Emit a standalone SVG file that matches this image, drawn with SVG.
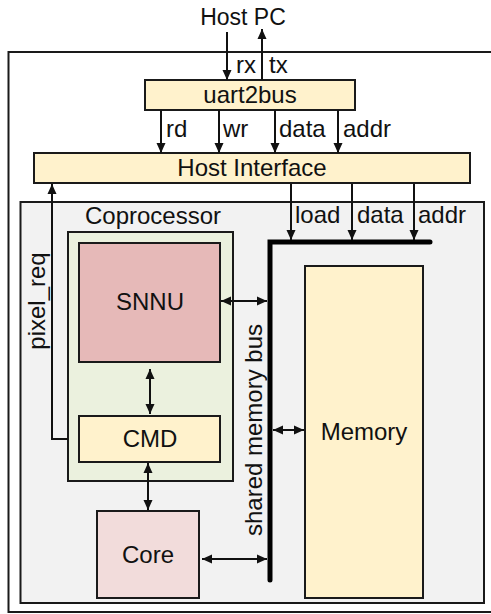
<svg xmlns="http://www.w3.org/2000/svg" width="491" height="614" viewBox="0 0 491 614">
<style>
text{font-family:"Liberation Sans","Open Sans",sans-serif;font-size:24px;fill:#111}
.c{text-anchor:middle}
.box{stroke:#1a1a1a;stroke-width:2}
.ln{stroke:#111;stroke-width:2;fill:none}
</style>
<defs>
<marker id="ah" markerUnits="userSpaceOnUse" markerWidth="10" markerHeight="10" refX="10" refY="5" orient="auto-start-reverse" viewBox="0 0 10 10">
<path d="M0,0.5 L10,5 L0,9.5 z" fill="#111"/>
</marker>
</defs>
<rect x="8.5" y="52" width="490" height="560" fill="#fff" stroke="#1a1a1a" stroke-width="2"/>
<rect x="20.5" y="202" width="463.5" height="401" fill="#f2f2f2" stroke="#1a1a1a" stroke-width="2"/>
<text class="c" x="243" y="25" style="font-size:23px">Host PC</text>
<g id="uart2bus"><rect class="box" x="145" y="80" width="210" height="30" fill="#fff2cc"/><text class="c" x="250" y="103">uart2bus</text></g>
<g id="host-interface"><rect class="box" x="34" y="153" width="436" height="30" fill="#fff2cc"/><text class="c" x="252" y="176">Host Interface</text></g>
<g id="coprocessor"><rect class="box" x="68" y="232" width="165" height="249" fill="#ebf1de"/><text class="c" x="153" y="224">Coprocessor</text></g>
<g id="snnu"><rect class="box" x="79" y="243" width="141" height="119" fill="#e6b9b8"/><text class="c" x="150" y="310">SNNU</text></g>
<g id="cmd"><rect class="box" x="79" y="416" width="141" height="46" fill="#fff2cc"/><text class="c" x="150" y="447">CMD</text></g>
<g id="core"><rect class="box" x="97" y="511" width="102" height="87" fill="#f2dcdb"/><text class="c" x="148" y="563">Core</text></g>
<g id="memory"><rect class="box" x="305" y="266" width="118" height="332" fill="#fff2cc"/><text class="c" x="364" y="440">Memory</text></g>
<g id="bus"><path d="M270,580 V242 H430" stroke="#000" stroke-width="5" fill="none" stroke-linecap="round"/><text class="c" transform="translate(262,430) rotate(-90)">shared memory bus</text></g>
<g id="connectors">
<line class="ln" x1="227" y1="32" x2="227" y2="80" marker-end="url(#ah)"/>
<line class="ln" x1="262" y1="80" x2="262" y2="29" marker-end="url(#ah)"/>
<line class="ln" x1="161" y1="110" x2="161" y2="153" marker-end="url(#ah)"/>
<line class="ln" x1="219" y1="110" x2="219" y2="153" marker-end="url(#ah)"/>
<line class="ln" x1="275" y1="110" x2="275" y2="153" marker-end="url(#ah)"/>
<line class="ln" x1="338" y1="110" x2="338" y2="153" marker-end="url(#ah)"/>
<polyline class="ln" points="68,439 52,439 52,184" marker-end="url(#ah)"/>
<line class="ln" x1="291" y1="184" x2="291" y2="240" marker-end="url(#ah)"/>
<line class="ln" x1="352" y1="184" x2="352" y2="240" marker-end="url(#ah)"/>
<line class="ln" x1="414" y1="184" x2="414" y2="240" marker-end="url(#ah)"/>
<line class="ln" x1="221" y1="301" x2="267" y2="301" marker-start="url(#ah)" marker-end="url(#ah)"/>
<line class="ln" x1="150" y1="369" x2="150" y2="414" marker-start="url(#ah)" marker-end="url(#ah)"/>
<line class="ln" x1="148" y1="463" x2="148" y2="510" marker-start="url(#ah)" marker-end="url(#ah)"/>
<line class="ln" x1="202" y1="559" x2="267" y2="559" marker-start="url(#ah)" marker-end="url(#ah)"/>
<line class="ln" x1="273" y1="430" x2="304" y2="430" marker-start="url(#ah)" marker-end="url(#ah)"/>
</g>
<g id="labels">
<text x="236" y="73">rx</text><text x="269" y="73">tx</text>
<text x="166" y="137">rd</text><text x="223" y="137">wr</text><text x="279" y="137">data</text><text x="343" y="137">addr</text>
<text x="295" y="223">load</text><text x="357" y="223">data</text><text x="418" y="223">addr</text>
<text class="c" transform="translate(45,301) rotate(-90)">pixel_req</text>
</g>
</svg>
